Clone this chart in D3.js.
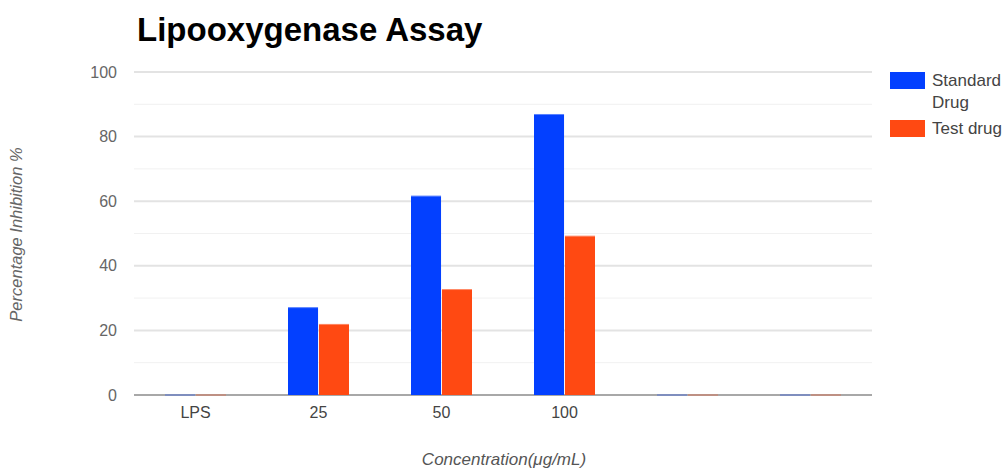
<!DOCTYPE html>
<html>
<head>
<meta charset="utf-8">
<script src="https://cdn.jsdelivr.net/npm/d3@7"></script>
<style>
  html, body { margin: 0; padding: 0; background: #fff; }
  svg { display: block; }
</style>
</head>
<body>
<svg id="chart" width="1004" height="468"></svg>
<script>
// Concentration groups (the last two are empty slots on the axis)
const categories = ["LPS", "25", "50", "100", "", " "];
const seriesNames = ["Standard Drug", "Test drug"];
const standardDrug = [0, 27.2, 61.7, 87.0, 0, 0];
const testDrug = [0, 22.0, 32.8, 49.3, 0, 0];
const yTicks = [0, 20, 40, 60, 80, 100];
const yMinorTicks = [10, 30, 50, 70, 90];
const colors = ["#0340ff", "#ff4912"];

const FONT = "Liberation Sans, Arial, sans-serif";
const svg = d3.select("#chart");
const margin = { left: 134, right: 132, top: 72, bottom: 73 };
const width = 1004, height = 468;

const x = d3.scaleBand()
  .domain(categories)
  .range([margin.left, width - margin.right])
  .paddingInner(0).paddingOuter(0);

const y = d3.scaleLinear()
  .domain([0, 100])
  .range([height - margin.bottom, margin.top]);

const groupWidth = 61;
const xs = d3.scaleBand().domain(seriesNames).range([0, groupWidth]).paddingInner(0.03);

// gridlines
const grid = svg.append("g");
grid.selectAll("line.minor").data(yMinorTicks).join("line")
  .attr("class", "minor")
  .attr("x1", margin.left).attr("x2", width - margin.right)
  .attr("y1", d => y(d)).attr("y2", d => y(d))
  .attr("stroke", "#f1f1f1").attr("stroke-width", 1);
grid.selectAll("line.major").data(yTicks.filter(d => d !== 0)).join("line")
  .attr("class", "major")
  .attr("x1", margin.left).attr("x2", width - margin.right)
  .attr("y1", d => y(d)).attr("y2", d => y(d))
  .attr("stroke", "#e3e3e3").attr("stroke-width", 2);

// y axis labels
const yAxis = d3.axisLeft(y).tickValues(yTicks).tickSize(0).tickPadding(17);
svg.append("g")
  .attr("transform", `translate(${margin.left},0)`)
  .call(yAxis)
  .call(g => g.select(".domain").remove())
  .call(g => g.selectAll("text")
    .attr("fill", "#666").attr("font-family", FONT)
    .attr("font-size", 16));

// baseline
svg.append("line")
  .attr("x1", margin.left).attr("x2", width - margin.right)
  .attr("y1", y(0)).attr("y2", y(0))
  .attr("stroke", "#a8a8a8").attr("stroke-width", 2);

// bars
const seriesData = [standardDrug, testDrug];
const groups = svg.append("g").selectAll("g")
  .data(categories).join("g")
  .attr("transform", d => `translate(${x(d) + x.bandwidth() / 2 - groupWidth / 2},0)`);

groups.each(function (cat, i) {
  const g = d3.select(this);
  seriesNames.forEach((s, si) => {
    const v = seriesData[si][i];
    if (v > 0) {
      g.append("rect")
        .attr("x", xs(s)).attr("width", xs.bandwidth())
        .attr("y", y(v)).attr("height", y(0) - y(v))
        .attr("fill", colors[si]);
      g.append("line")
        .attr("x1", xs(s)).attr("x2", xs(s) + xs.bandwidth())
        .attr("y1", y(v) + 0.5).attr("y2", y(v) + 0.5)
        .attr("stroke", "#fff").attr("stroke-opacity", 0.35);
    } else {
      // zero-height bar shown as a tinted segment on the baseline
      g.append("line")
        .attr("x1", xs(s)).attr("x2", xs(s) + xs.bandwidth())
        .attr("y1", y(0)).attr("y2", y(0))
        .attr("stroke", colors[si]).attr("stroke-opacity", 0.25)
        .attr("stroke-width", 2);
    }
  });
});

// x axis labels
const xAxis = d3.axisBottom(x).tickSize(0).tickPadding(12);
svg.append("g")
  .attr("transform", `translate(0,${y(0)})`)
  .call(xAxis)
  .call(g => g.select(".domain").remove())
  .call(g => g.selectAll("text")
    .attr("fill", "#444").attr("font-family", FONT)
    .attr("font-size", 16));

// title
svg.append("text")
  .attr("x", 137).attr("y", 41)
  .attr("font-family", FONT)
  .attr("font-weight", "bold").attr("font-size", 33)
  .attr("fill", "#000")
  .text("Lipooxygenase Assay");

// axis titles
svg.append("text")
  .attr("transform", `translate(22,${(y(0) + y(100)) / 2 + 1}) rotate(-90)`)
  .attr("text-anchor", "middle")
  .attr("font-family", FONT)
  .attr("font-style", "italic").attr("font-size", 16.5)
  .attr("fill", "#666")
  .text("Percentage Inhibition %");

svg.append("text")
  .attr("x", 504).attr("y", 465)
  .attr("text-anchor", "middle")
  .attr("font-family", FONT)
  .attr("font-style", "italic").attr("font-size", 17)
  .attr("fill", "#555")
  .text("Concentration(\u03bcg/mL)");

// legend
const legend = svg.append("g").attr("transform", "translate(890,72)");
const legendRows = [
  { lines: ["Standard", "Drug"], color: colors[0], y: 0 },
  { lines: ["Test drug"], color: colors[1], y: 48 }
];
legendRows.forEach(r => {
  legend.append("rect")
    .attr("x", 0).attr("y", r.y).attr("width", 35).attr("height", 17)
    .attr("fill", r.color);
  const t = legend.append("text")
    .attr("x", 42).attr("y", r.y + 14)
    .attr("font-family", FONT)
    .attr("font-size", 17).attr("fill", "#444");
  r.lines.forEach((ln, k) => {
    t.append("tspan").attr("x", 42).attr("dy", k === 0 ? 0 : 22).text(ln);
  });
});
</script>
</body>
</html>
